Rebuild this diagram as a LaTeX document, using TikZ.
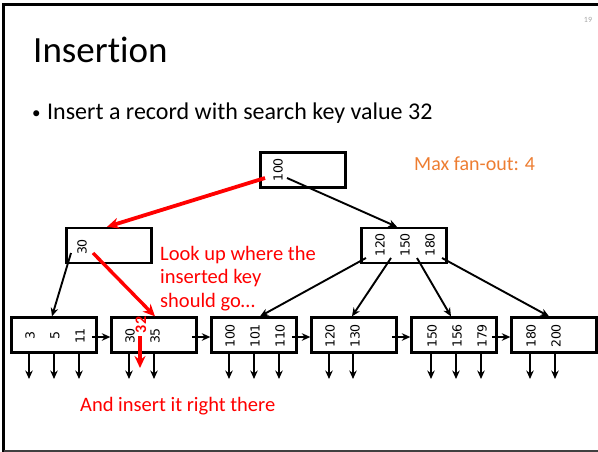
\documentclass[tikz,border=0pt]{standalone}
\usepackage{fontspec}
\setmainfont{Carlito}[Ligatures=NoCommon]
\newfontfamily\keyfont{DejaVu Sans}
\usetikzlibrary{arrows.meta}
\definecolor{slideorange}{HTML}{ED7D31}
\definecolor{hlred}{HTML}{FF0000}
\definecolor{pagegray}{HTML}{A6A6A6}

\begin{document}
\begin{tikzpicture}[x=1pt,y=-1pt,
  bnode/.style={draw=black, line width=2.3pt, minimum width=85pt, minimum height=35pt, inner sep=0pt},
  keytxt/.style={font=\keyfont\fontsize{12.5}{12.5}\selectfont, rotate=90, inner sep=0pt},
  ptr/.style={line width=1.9pt, -{Stealth[length=8.5pt,width=7.5pt]}},
  redptr/.style={draw=hlred, line width=3.8pt, -{Stealth[length=12pt,width=11pt]}},
  note/.style={text=hlred, font=\fontsize{20.5}{23.5}\selectfont, inner sep=0pt, anchor=base west}
]
\useasboundingbox (0,0) rectangle (598,452);

% slide frame
\draw[line width=3pt, black] (598,5) -- (3.5,5) -- (3.5,452);
\draw[line width=2pt, black!75] (3.5,451) -- (598,451);

% slide texts
\node[text=pagegray, font=\fontsize{8}{8}\selectfont, inner sep=0pt] (pageno) at (588,20) {19};
\node[anchor=base west, font=\fontsize{37}{37}\selectfont, inner sep=0pt] (title) at (33,63) {Insertion};
\node[anchor=base west, font=\fontsize{17}{17}\selectfont, inner sep=0pt] (bullet) at (32,118) {\textbullet};
\node[anchor=base west, font=\fontsize{24}{24}\selectfont, inner sep=0pt] (item) at (47,120) {Insert a record with search key value 32};
\node[anchor=base west, text=slideorange, font=\fontsize{20}{20}\selectfont, inner sep=0pt] (fanout) at (414,171) {Max fan-out: 4};

% root and internal nodes
\node[bnode] (root) at (303,170) {};
\node[keytxt] (r1) at (278,170) {100};
\node[bnode] (li) at (109,245.5) {};
\node[keytxt] (li1) at (82,247) {30};
\node[bnode] (ri) at (404,245.5) {};
\node[keytxt] (ri1) at (380,245) {120};
\node[keytxt] (ri2) at (405,245) {150};
\node[keytxt] (ri3) at (430,245) {180};

% leaf nodes
\node[bnode] (leaf1) at (54,335) {};
\node[bnode] (leaf2) at (154,335) {};
\node[bnode] (leaf3) at (254,335) {};
\node[bnode] (leaf4) at (354,335) {};
\node[bnode] (leaf5) at (454,335) {};
\node[bnode] (leaf6) at (554,335) {};

\node[keytxt] (k1a) at (30,336) {3};
\node[keytxt] (k1b) at (55,336) {5};
\node[keytxt] (k1c) at (80,336) {11};
\node[keytxt] (k2a) at (130,336) {30};
\node[keytxt] (k2b) at (155,336) {35};
\node[keytxt] (k3a) at (230,336) {100};
\node[keytxt] (k3b) at (255,336) {101};
\node[keytxt] (k3c) at (280,336) {110};
\node[keytxt] (k4a) at (330,336) {120};
\node[keytxt] (k4b) at (355,336) {130};
\node[keytxt] (k5a) at (432,336) {150};
\node[keytxt] (k5b) at (457,336) {156};
\node[keytxt] (k5c) at (482,336) {179};
\node[keytxt] (k6a) at (531,336) {180};
\node[keytxt] (k6b) at (556,336) {200};

% the newly inserted key (rotated, so its west anchor is at the bottom)
\node[text=hlred, font=\bfseries\fontsize{16}{16}\selectfont, rotate=90, inner sep=0pt] (new) at (141,325) {32};

% pointers out of the root
\coordinate (rp0) at (265,178);
\coordinate (rp1) at (287,178);
\draw[redptr] (rp0) -- ([xshift=-2pt]li.north);
\draw[ptr] (rp1) -- ([xshift=-7pt]ri.north);

% pointers out of the internal nodes
\coordinate (lp0) at (71,253);
\coordinate (lp1) at (93,253);
\draw[ptr] (lp0) -- ([xshift=-2pt]leaf1.north);
\draw[redptr, line width=3.4pt] (lp1) -- ([xshift=1pt]leaf2.north);
\coordinate (qp0) at (366,258);
\coordinate (qp1) at (391,258);
\coordinate (qp2) at (417,258);
\coordinate (qp3) at (442,258);
\draw[ptr] (qp0) -- ([xshift=6pt]leaf3.north);
\draw[ptr] (qp1) -- ([xshift=-2pt]leaf4.north);
\draw[ptr] (qp2) -- ([xshift=-3pt]leaf5.north);
\draw[ptr] (qp3) -- ([xshift=-5pt]leaf6.north);

% sibling links between leaves
\coordinate (s1) at (92,337);
\coordinate (s2) at (192,337);
\coordinate (s3) at (292,337);
\coordinate (s4) at (392,337);
\coordinate (s5) at (492,337);
\draw[ptr] (s1) -- (s1 -| leaf2.west);
\draw[ptr] (s2) -- (s2 -| leaf3.west);
\draw[ptr] (s3) -- (s3 -| leaf4.west);
\draw[ptr] (s4) -- (s4 -| leaf5.west);
\draw[ptr] (s5) -- (s5 -| leaf6.west);

% record pointers below the leaves
\foreach \px/\lf in {29/leaf1, 54/leaf1, 79/leaf1, 129/leaf2, 154/leaf2,
    229/leaf3, 254/leaf3, 279/leaf3, 329/leaf4, 353/leaf4,
    431/leaf5, 456/leaf5, 481/leaf5, 530/leaf6, 555/leaf6} {
  \coordinate (rec) at (\px,379);
  \draw[ptr] (rec |- \lf.south) -- (rec);
}

% insertion point
\coordinate (ins) at (140,368);
\draw[redptr, line width=3.4pt] (ins |- new.west) ++(0,3) -- (ins);

% annotations
\node[note] (look1) at (160,260) {Look up where the};
\node[note] (look2) at (160,283.5) {inserted key};
\node[note] (look3) at (160,307) {should go\ldots};
\node[note] (there) at (80,411) {And insert it right there};
\end{tikzpicture}
\end{document}
